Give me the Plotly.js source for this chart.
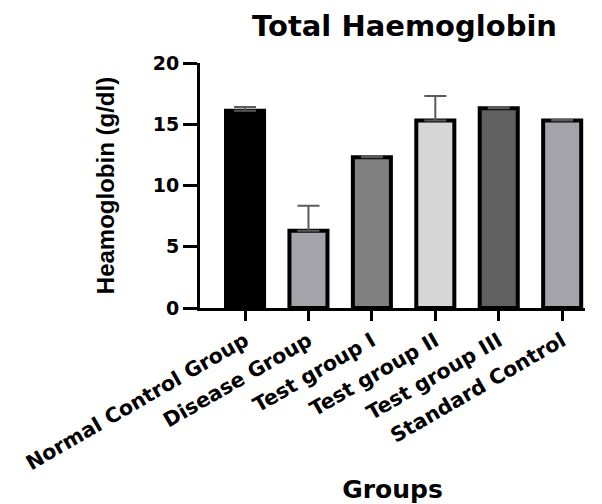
<!DOCTYPE html>
<html>
<head>
<meta charset="utf-8">
<script src="https://cdn.plot.ly/plotly-3.0.1.min.js"></script>
<style>html,body{margin:0;padding:0;background:#fff;}#chart{width:602px;height:504px;}</style>
</head>
<body>
<div id="chart"></div>
<script>
var groups = ["Normal Control Group", "Disease Group", "Test group I", "Test group II", "Test group III", "Standard Control"];
var haemoglobin = [16.1, 6.3, 12.3, 15.3, 16.3, 15.3];
var errorUp = [0.3, 2.05, 0.1, 2.0, 0.1, 0.05];
var barColors = ["#000000", "#a4a3a9", "#808080", "#d6d6d6", "#616161", "#a4a3a9"];
var yTicks = [0, 5, 10, 15, 20];

var trace = {
  type: "bar",
  x: groups,
  y: haemoglobin,
  marker: {color: barColors, line: {color: "#000000", width: 4}},
  error_y: {type: "data", symmetric: false, array: errorUp, arrayminus: errorUp.map(function(){return 0;}),
            color: "#5a5a5a", thickness: 2, width: 11},
  hoverinfo: "none"
};

var layout = {
  width: 602, height: 504,
  margin: {l: 200, r: 17, t: 63, b: 196},
  paper_bgcolor: "#ffffff", plot_bgcolor: "#ffffff",
  showlegend: false,
  bargap: 0.4,
  title: {text: "Total Haemoglobin", font: {family: "DejaVu Sans", size: 29, weight: "bold", color: "#000"},
          x: 0.672, xref: "container", xanchor: "center", y: 1 - 26/504, yref: "container", yanchor: "middle"},
  xaxis: {
    type: "category",
    range: [-0.71, 5.36],
    showline: true, linewidth: 3, linecolor: "#000",
    ticks: "outside", ticklen: 10, tickwidth: 3, tickcolor: "#000",
    tickangle: -30,
    tickfont: {family: "DejaVu Sans", size: 20.5, weight: "bold", color: "#000"},
    showgrid: false, zeroline: false,
    automargin: false,
    title: {text: "Groups", font: {family: "DejaVu Sans", size: 25, weight: "bold", color: "#000"}, standoff: 21}
  },
  yaxis: {
    range: [0, 20],
    tickvals: yTicks,
    showline: true, linewidth: 3, linecolor: "#000",
    ticks: "outside", ticklen: 14, tickwidth: 3, tickcolor: "#000",
    tickfont: {family: "DejaVu Sans", size: 19, weight: "bold", color: "#000"},
    showgrid: false, zeroline: false,
    automargin: false,
    title: {text: "Heamoglobin (g/dl)", font: {family: "Liberation Sans Narrow, Liberation Sans, Arial", size: 24, weight: "bold", color: "#000"}, standoff: 32}
  }
};

Plotly.newPlot("chart", [trace], layout, {displayModeBar: false, staticPlot: true});
</script>
</body>
</html>
